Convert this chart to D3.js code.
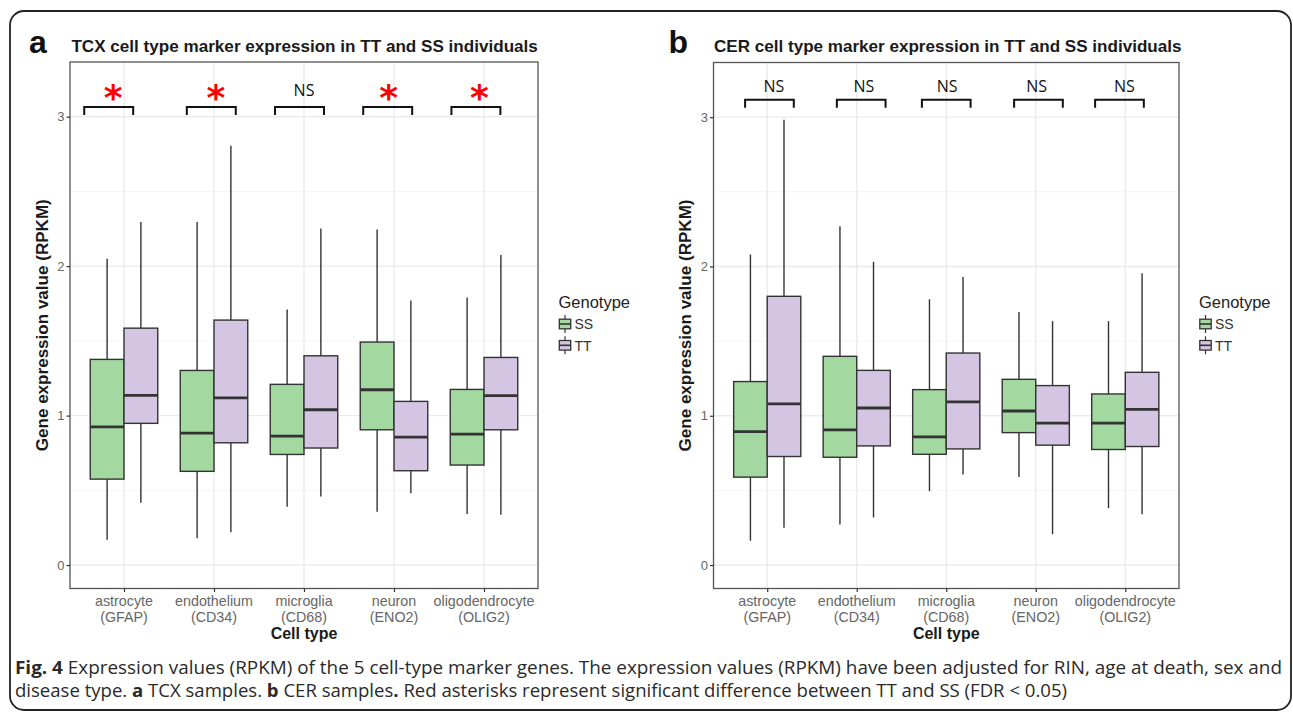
<!DOCTYPE html>
<html>
<head>
<meta charset="utf-8">
<script src="https://cdn.jsdelivr.net/npm/d3@7"></script>
<style>
  body { margin: 0; background: #fff; }
  svg { display: block; }
</style>
</head>
<body>
<svg id="fig" width="1293" height="713"></svg>
<script>
const categories = ["astrocyte", "endothelium", "microglia", "neuron", "oligodendrocyte"];
const markers = ["(GFAP)", "(CD34)", "(CD68)", "(ENO2)", "(OLIG2)"];
const genotypes = ["SS", "TT"];
const genotypeColors = ["#a3d9a0", "#d4c5e2"];
const yTicks = [0, 1, 2, 3];
const yMinor = [0.5, 1.5, 2.5];

// box summaries: [lower whisker, Q1, median, Q3, upper whisker]
const tcxSS = [[0.17, 0.575, 0.925, 1.376, 2.05], [0.18, 0.627, 0.883, 1.302, 2.296], [0.39, 0.74, 0.863, 1.209, 1.71], [0.357, 0.905, 1.173, 1.492, 2.245], [0.341, 0.669, 0.876, 1.175, 1.79]];
const tcxTT = [[0.417, 0.948, 1.135, 1.585, 2.296], [0.219, 0.818, 1.119, 1.639, 2.805], [0.459, 0.783, 1.039, 1.40, 2.252], [0.48, 0.631, 0.856, 1.095, 1.77], [0.336, 0.905, 1.133, 1.389, 2.074]];
const cerSS = [[0.163, 0.589, 0.894, 1.229, 2.08], [0.272, 0.722, 0.905, 1.398, 2.27], [0.495, 0.742, 0.858, 1.175, 1.78], [0.589, 0.887, 1.032, 1.244, 1.695], [0.381, 0.774, 0.95, 1.146, 1.634]];
const cerTT = [[0.25, 0.727, 1.079, 1.80, 2.983], [0.319, 0.798, 1.052, 1.304, 2.031], [0.607, 0.778, 1.093, 1.42, 1.929], [0.207, 0.803, 0.95, 1.202, 1.634], [0.341, 0.794, 1.043, 1.291, 1.955]];
const tcxTest = ["*", "*", "NS", "*", "*"];
const cerTest = ["NS", "NS", "NS", "NS", "NS"];

const panels = [
  { letter: "a", title: "TCX cell type marker expression in TT and SS individuals",
    groups: [tcxSS, tcxTT], test: tcxTest,
    left: 70, right: 538, top: 62, bottom: 588.5,
    titleX: 71.4, titleW: 466.5, letterX: 29, yTitleX: 48, legendX: 558.5,
    bracket: [3.012, 3.065], labelY: 90,
    bracketShift: [-0.17, -0.03, -0.05, -0.07, -0.09],
    labelShift: [-0.12, 0.02, 0, -0.06, -0.05] },
  { letter: "b", title: "CER cell type marker expression in TT and SS individuals",
    groups: [cerSS, cerTT], test: cerTest,
    left: 713.5, right: 1179, top: 62.5, bottom: 588.5,
    titleX: 714, titleW: 467.5, letterX: 668.5, yTitleX: 690.5, legendX: 1199,
    bracket: [3.063, 3.116], labelY: 86,
    bracketShift: [0.025, 0.05, 0, 0.03, -0.065],
    labelShift: [0.075, 0.08, 0.01, 0.01, -0.01] }
];

const svg = d3.select("#fig");
const sans = "'Liberation Sans', Arial, sans-serif";

// outer frame
svg.append("rect")
  .attr("x", 10).attr("y", 11).attr("width", 1281).attr("height", 699)
  .attr("rx", 14)
  .attr("fill", "none").attr("stroke", "#222").attr("stroke-width", 1.8);

panels.forEach(p => {
  const g = svg.append("g");

  const x = d3.scalePoint().domain(categories).range([p.left, p.right]).padding(0.6);
  const y = d3.scaleLinear().domain([-0.157, 3.366]).range([p.bottom, p.top]);
  const step = x.step();
  const boxW = step * 0.375;

  // panel letter and title
  g.append("text")
    .attr("x", p.letterX).attr("y", 53)
    .attr("font-family", sans).attr("font-weight", "bold").attr("font-size", 32)
    .attr("fill", "#111")
    .text(p.letter);
  g.append("text")
    .attr("x", p.titleX).attr("y", 51.5)
    .attr("font-family", sans).attr("font-weight", "bold").attr("font-size", 16.5)
    .attr("textLength", p.titleW).attr("lengthAdjust", "spacingAndGlyphs")
    .attr("fill", "#1a1a1a")
    .text(p.title);

  // grid
  g.selectAll(".minor").data(yMinor).join("line")
    .attr("x1", p.left).attr("x2", p.right)
    .attr("y1", d => y(d)).attr("y2", d => y(d))
    .attr("stroke", "#f2f2f2").attr("stroke-width", 0.8);
  g.selectAll(".major").data(yTicks).join("line")
    .attr("x1", p.left).attr("x2", p.right)
    .attr("y1", d => y(d)).attr("y2", d => y(d))
    .attr("stroke", "#ebebeb").attr("stroke-width", 1.4);
  g.selectAll(".vgrid").data(categories).join("line")
    .attr("x1", d => x(d)).attr("x2", d => x(d))
    .attr("y1", p.top).attr("y2", p.bottom)
    .attr("stroke", "#ebebeb").attr("stroke-width", 1.4);

  // boxes
  p.groups.forEach((rows, gi) => {
    const bg = g.append("g");
    rows.forEach((s, ci) => {
      const x0 = x(categories[ci]) + (gi === 0 ? -boxW : 0);
      const xc = x0 + boxW / 2;
      bg.append("line")
        .attr("x1", xc).attr("x2", xc).attr("y1", y(s[4])).attr("y2", y(s[3]))
        .attr("stroke", "#333").attr("stroke-width", 1.4);
      bg.append("line")
        .attr("x1", xc).attr("x2", xc).attr("y1", y(s[1])).attr("y2", y(s[0]))
        .attr("stroke", "#333").attr("stroke-width", 1.4);
      bg.append("rect")
        .attr("x", x0).attr("y", y(s[3]))
        .attr("width", boxW).attr("height", y(s[1]) - y(s[3]))
        .attr("fill", genotypeColors[gi]).attr("stroke", "#333").attr("stroke-width", 1.4);
      bg.append("line")
        .attr("x1", x0).attr("x2", x0 + boxW).attr("y1", y(s[2])).attr("y2", y(s[2]))
        .attr("stroke", "#333").attr("stroke-width", 2.8);
    });
  });

  // significance brackets
  categories.forEach((c, ci) => {
    const cx = x(c) + p.bracketShift[ci] * step;
    const half = step * 0.272;
    g.append("path")
      .attr("d", d3.line()([[cx - half, y(p.bracket[0])], [cx - half, y(p.bracket[1])],
                            [cx + half, y(p.bracket[1])], [cx + half, y(p.bracket[0])]]))
      .attr("fill", "none").attr("stroke", "#111").attr("stroke-width", 2);
    const lx = x(c) + p.labelShift[ci] * step;
    const t = p.test[ci];
    if (t === "*") {
      g.append("text")
        .attr("x", lx).attr("y", p.labelY + 20)
        .attr("text-anchor", "middle")
        .attr("font-family", "'DejaVu Sans', sans-serif").attr("font-weight", "bold")
        .attr("font-size", 36).attr("fill", "#ff0000")
        .text(t);
    } else {
      g.append("text")
        .attr("x", lx).attr("y", p.labelY + 5.8)
        .attr("text-anchor", "middle")
        .attr("font-family", "'Open Sans', sans-serif").attr("font-size", 16)
        .attr("fill", "#111")
        .text(t);
    }
  });

  // panel border
  g.append("rect")
    .attr("x", p.left).attr("y", p.top)
    .attr("width", p.right - p.left).attr("height", p.bottom - p.top)
    .attr("fill", "none").attr("stroke", "#555").attr("stroke-width", 1.3);

  // y axis
  const yAxis = g.append("g")
    .attr("transform", `translate(${p.left},0)`)
    .call(d3.axisLeft(y).tickValues(yTicks).tickSize(3.5).tickPadding(2).tickFormat(d3.format("d")));
  yAxis.select(".domain").remove();
  yAxis.selectAll("line").attr("stroke", "#333").attr("stroke-width", 1.2);
  yAxis.selectAll("text").attr("font-family", sans).attr("font-size", 13).attr("fill", "#666");

  // x axis
  const xAxis = g.append("g")
    .attr("transform", `translate(0,${p.bottom})`)
    .call(d3.axisBottom(x).tickSize(3.5).tickFormat(""));
  xAxis.select(".domain").remove();
  xAxis.selectAll("line").attr("stroke", "#333").attr("stroke-width", 1.2);

  const xl = g.selectAll(".xlab").data(categories).join("text")
    .attr("text-anchor", "middle")
    .attr("font-family", sans).attr("font-size", 14.3).attr("fill", "#666");
  xl.append("tspan").attr("x", d => x(d)).attr("y", 605.5).text(d => d);
  xl.append("tspan").attr("x", d => x(d)).attr("y", 621.5).text((d, i) => markers[i]);

  g.append("text")
    .attr("x", (p.left + p.right) / 2).attr("y", 639)
    .attr("text-anchor", "middle")
    .attr("font-family", sans).attr("font-weight", "bold").attr("font-size", 16)
    .attr("fill", "#1a1a1a")
    .text("Cell type");

  g.append("text")
    .attr("transform", `translate(${p.yTitleX},${(p.top + p.bottom) / 2}) rotate(-90)`)
    .attr("text-anchor", "middle")
    .attr("font-family", sans).attr("font-weight", "bold").attr("font-size", 16)
    .attr("textLength", 252).attr("lengthAdjust", "spacingAndGlyphs")
    .attr("fill", "#1a1a1a")
    .text("Gene expression value (RPKM)");

  // legend
  const lg = g.append("g").attr("transform", `translate(${p.legendX},0)`);
  lg.append("text")
    .attr("x", 0).attr("y", 307.5)
    .attr("font-family", sans).attr("font-size", 16.5).attr("fill", "#222")
    .text("Genotype");
  genotypes.forEach((gt, i) => {
    const cy = 324 + i * 21.3;
    lg.append("line").attr("x1", 6.5).attr("x2", 6.5).attr("y1", cy - 9).attr("y2", cy + 9)
      .attr("stroke", "#333").attr("stroke-width", 1.2);
    lg.append("rect").attr("x", 0.8).attr("y", cy - 4.8).attr("width", 11.4).attr("height", 9.6)
      .attr("fill", genotypeColors[i]).attr("stroke", "#333").attr("stroke-width", 1.3);
    lg.append("line").attr("x1", 0.8).attr("x2", 12.2).attr("y1", cy).attr("y2", cy)
      .attr("stroke", "#333").attr("stroke-width", 1.6);
    lg.append("text")
      .attr("x", 16).attr("y", cy + 5.2)
      .attr("font-family", sans).attr("font-size", 14).attr("fill", "#333")
      .text(gt);
  });
});

// caption
const cap = "'Open Sans', sans-serif";
const line1 = svg.append("text")
  .attr("x", 15).attr("y", 674)
  .attr("font-family", cap).attr("font-size", 17.5).attr("fill", "#2a2a2a")
  .attr("textLength", 1267).attr("lengthAdjust", "spacingAndGlyphs");
line1.append("tspan").attr("font-weight", "bold").text("Fig. 4");
line1.append("tspan").text(" Expression values (RPKM) of the 5 cell-type marker genes. The expression values (RPKM) have been adjusted for RIN, age at death, sex and");

const line2 = svg.append("text")
  .attr("x", 15).attr("y", 697)
  .attr("font-family", cap).attr("font-size", 17.5).attr("fill", "#2a2a2a")
  .attr("textLength", 1052).attr("lengthAdjust", "spacingAndGlyphs");
[["disease type. ", false], ["a", true], [" TCX samples. ", false], ["b", true],
 [" CER samples", false], [".", true],
 [" Red asterisks represent significant difference between TT and SS (FDR < 0.05)", false]]
  .forEach(([t, b]) => line2.append("tspan").attr("font-weight", b ? "bold" : null).text(t));
</script>
</body>
</html>
